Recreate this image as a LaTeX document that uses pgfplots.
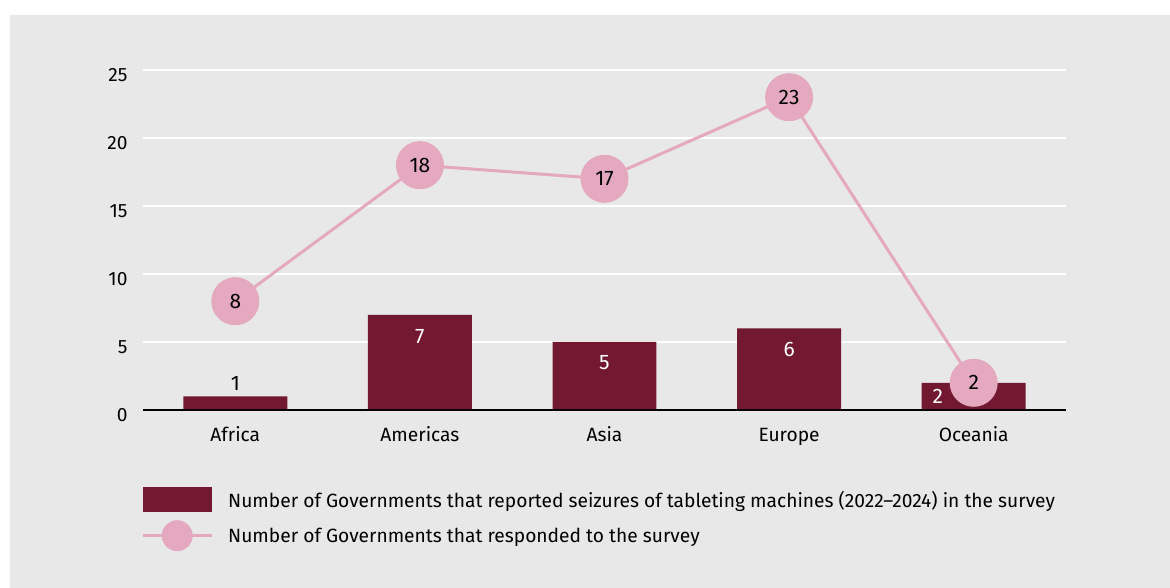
\documentclass[border=0pt]{standalone}
\usepackage{fontspec}
\setmainfont{Fira Sans}
\usepackage{pgfplots}
\pgfplotsset{compat=1.18}
\definecolor{bgc}{HTML}{E8E8E8}
\definecolor{barc}{HTML}{731831}
\definecolor{pinkc}{HTML}{E4A9BF}
\newcommand{\fs}{\fontsize{19.2}{22}\selectfont}
\newcommand{\fn}{\fontsize{21}{22}\selectfont}
\begin{document}
\begin{tikzpicture}[x=1pt,y=1pt]
\fill[white] (0,0) rectangle (1170,588);
\fill[bgc] (10,0) rectangle (1170,573);
\begin{axis}[
  at={(143pt,178pt)}, anchor=south west,
  scale only axis, width=923pt, height=340pt,
  xmin=-0.5, xmax=4.5, ymin=0, ymax=25,
  clip=false,
  axis x line*=bottom, axis y line*=left,
  x axis line style={draw=none}, y axis line style={draw=none},
  ymajorgrids, grid style={white, line width=2pt},
  ytick={0,5,10,15,20,25},
  xtick={0,1,2,3,4},
  xticklabels={Africa,Americas,Asia,Europe,Oceania},
  major tick length=0pt,
  tick label style={font=\fs, text=black},
  /pgf/number format/assume math mode=true,
  yticklabel style={xshift=-12pt, yshift=-5pt},
  xticklabel style={yshift=-14pt, text height=14pt, text depth=4pt},
  legend style={at={(rel axis cs:0,0)}, anchor=north west, yshift=-77pt, xshift=-2pt,
    draw=none, fill=none, font=\fs, row sep=8pt, inner sep=0pt,
    /tikz/every odd column/.append style={column sep=13pt}},
  legend cell align=left,
]
\addplot[ybar, bar width=0.563, fill=barc, draw=none,
  legend image code/.code={\fill[barc] (0pt,-12.5pt) rectangle (69pt,12.5pt);}]
  coordinates {(0,1) (1,7) (2,5) (3,6) (4,2)};
\addlegendentry{Number of Governments that reported seizures of tableting machines (2022–2024) in the survey}
\addplot[pinkc, line width=3pt, mark=*, mark size=22.5pt,
  mark options={fill=pinkc, draw=none},
  nodes near coords,
  nodes near coords style={anchor=center, text=black, font=\fn},
  legend image code/.code={\draw[pinkc, line width=3pt] (0pt,0pt) -- (69pt,0pt);
     \fill[pinkc] (34.5pt,0pt) circle (14pt);}]
  coordinates {(0,8) (1,18) (2,17) (3,23) (4,2)};
\addlegendentry{Number of Governments that responded to the survey}
\draw[black, line width=2pt] (rel axis cs:0,0) -- (rel axis cs:1,0);
\node[black, font=\fn] at (axis cs:0,1) [yshift=13pt] {1};
\node[white, font=\fn] at (axis cs:1,7) [yshift=-22pt] {7};
\node[white, font=\fn] at (axis cs:2,5) [yshift=-21pt] {5};
\node[white, font=\fn] at (axis cs:3,6) [yshift=-21pt] {6};
\node[white, font=\fn] at (axis cs:4,1) [xshift=-36pt] {2};
\end{axis}
\end{tikzpicture}
\end{document}
